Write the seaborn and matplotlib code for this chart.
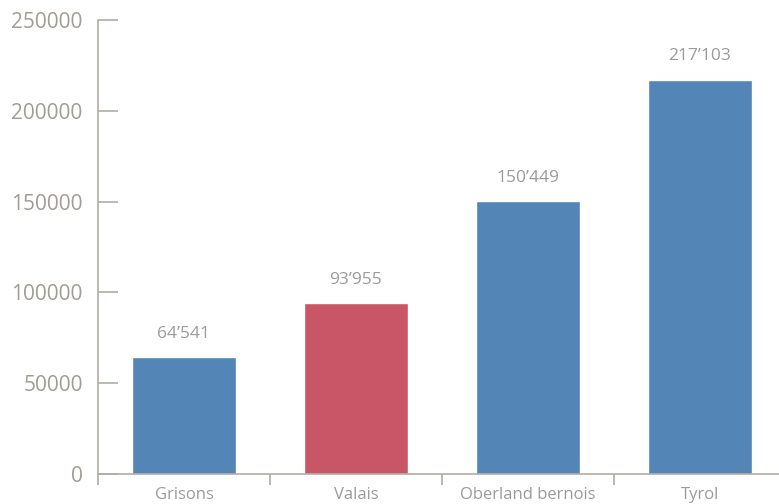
import matplotlib
matplotlib.use("Agg")
import matplotlib.pyplot as plt
import seaborn as sns
import pandas as pd

regions = ["Grisons", "Valais", "Oberland bernois", "Tyrol"]
visitors = [64541, 93955, 150449, 217103]
bar_colors = ["#5386b7", "#c95667", "#5386b7", "#5386b7"]
y_ticks = [0, 50000, 100000, 150000, 200000, 250000]

axis_grey = "#b3aca5"
tick_text = "#a39c94"
label_text = "#9b9b9b"

sns.set_theme(style="white")
plt.rcParams["font.family"] = ["Open Sans", "DejaVu Sans"]

df = pd.DataFrame({"region": regions, "visitors": visitors})

fig = plt.figure(figsize=(7.79, 5.04), dpi=100)
ax = fig.add_axes([98 / 779, 30 / 504, 688 / 779, 454 / 504])

sns.barplot(data=df, x="region", y="visitors", hue="region",
            palette=bar_colors, width=0.6, legend=False, ax=ax,
            saturation=1)

ax.set_xlim(-0.5, 3.5)
ax.set_ylim(0, 250000)
ax.set_yticks(y_ticks)
ax.set_yticklabels([str(v) for v in y_ticks])

# category boundaries get the tick marks, names sit under each bar
ax.set_xticks([-0.5, 0.5, 1.5, 2.5])
ax.set_xticklabels([])
ax.tick_params(axis="x", which="major", direction="out", length=8,
               width=1.2, color=axis_grey, bottom=True)
ax.tick_params(axis="y", direction="in", length=14.5, width=1.2,
               color=axis_grey, labelcolor=tick_text, labelsize=15,
               pad=11, left=True)

for i, name in enumerate(regions):
    ax.text(i, -29 / 454, name, transform=ax.get_xaxis_transform(),
            ha="center", va="bottom", fontsize=12, color=label_text)

for i, v in enumerate(visitors):
    lbl = f"{v:,}".replace(",", "\u2019")
    ax.annotate(lbl, (i, v), xytext=(0, 11), textcoords="offset points",
                ha="center", va="bottom", fontsize=12.5, color=label_text)

ax.set_xlabel("")
ax.set_ylabel("")
for side in ["top", "right"]:
    ax.spines[side].set_visible(False)
for side in ["left", "bottom"]:
    ax.spines[side].set_color(axis_grey)
    ax.spines[side].set_linewidth(1.2)
ax.spines["left"].set_bounds(0, 250000)

fig.savefig("out.png", dpi=100)
